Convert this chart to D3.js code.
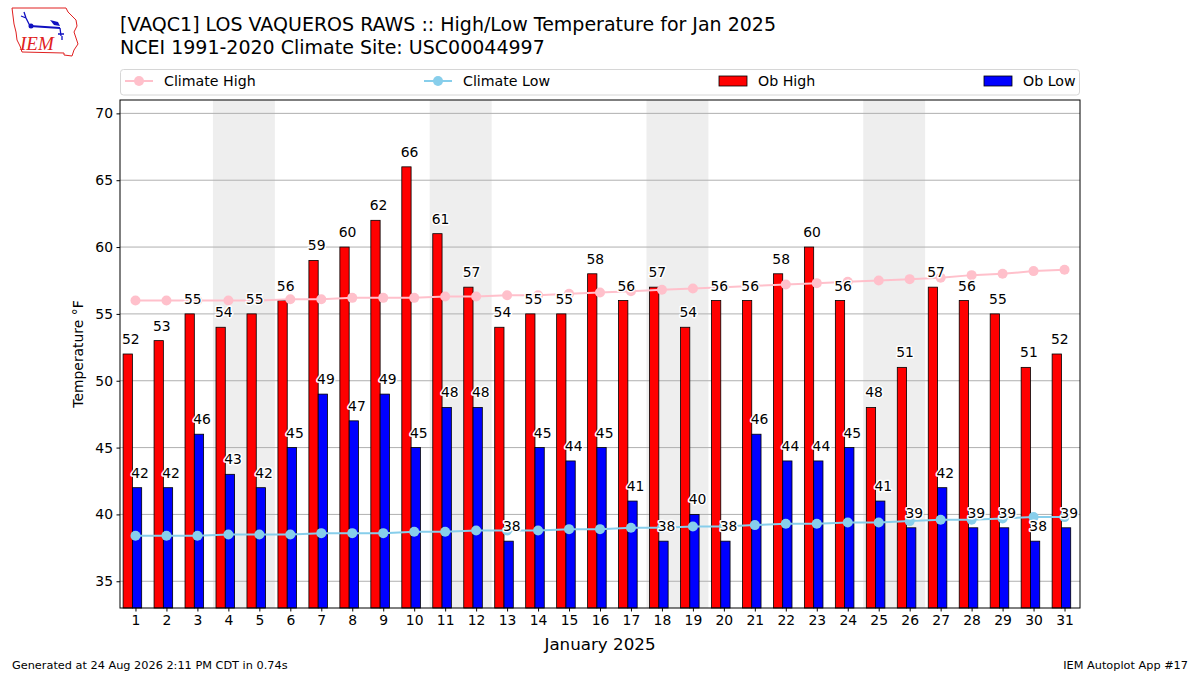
<!DOCTYPE html>
<html>
<head>
<meta charset="utf-8">
<script src="https://cdn.jsdelivr.net/npm/d3@7"></script>
<style>
  body { margin: 0; background: #fff; }
  svg { font-family: "DejaVu Sans", sans-serif; }
  .lbl { paint-order: stroke; stroke: #fff; stroke-width: 3px; stroke-linejoin: round; }
</style>
</head>
<body>
<div id="chart"></div>
<script>
// January 2025 daily data
const days = d3.range(1, 32);
const obHigh = [52, 53, 55, 54, 55, 56, 59, 60, 62, 66, 61, 57, 54, 55, 55, 58,
                56, 57, 54, 56, 56, 58, 60, 56, 48, 51, 57, 56, 55, 51, 52];
const obLow = [42, 42, 46, 43, 42, 45, 49, 47, 49, 45, 48, 48, 38, 45, 44, 45,
               41, 38, 40, 38, 46, 44, 44, 45, 41, 39, 42, 39, 39, 38, 39];
const climateHigh = [56.0, 56.0, 56.0, 56.0, 56.0, 56.1, 56.1, 56.2, 56.2, 56.2, 56.3,
                     56.3, 56.4, 56.4, 56.5, 56.6, 56.7, 56.8, 56.9, 57.0, 57.1, 57.2,
                     57.3, 57.4, 57.5, 57.6, 57.7, 57.9, 58.0, 58.2, 58.3];
const climateLow = [38.4, 38.4, 38.4, 38.5, 38.5, 38.5, 38.6, 38.6, 38.6, 38.7, 38.7,
                    38.8, 38.8, 38.8, 38.9, 38.9, 39.0, 39.0, 39.1, 39.1, 39.2, 39.3,
                    39.3, 39.4, 39.4, 39.5, 39.6, 39.6, 39.7, 39.8, 39.8];
const yTicks = [35, 40, 45, 50, 55, 60, 65, 70];

const width = 1200, height = 675;
const plot = { left: 120, right: 1080, top: 100, bottom: 608 };

const svg = d3.select("#chart")
    .append("svg")
    .attr("width", width)
    .attr("height", height);

const xScale = d3.scaleLinear().domain([0.5, 31.5]).range([plot.left, plot.right]);
const yScale = d3.scaleLinear().domain([33, 71]).range([plot.bottom, plot.top]);

// Weekend shading (Saturday + Sunday)
const saturdays = days.filter(d => new Date(2025, 0, d).getDay() === 6);
svg.append("g")
    .selectAll("rect")
    .data(saturdays)
    .enter()
    .append("rect")
    .attr("x", d => xScale(d - 0.5))
    .attr("width", d => xScale(d + 1.5) - xScale(d - 0.5))
    .attr("y", plot.top)
    .attr("height", plot.bottom - plot.top)
    .attr("fill", "#eeeeee");

// Grid lines
svg.append("g")
    .selectAll("line")
    .data(yTicks)
    .enter()
    .append("line")
    .attr("x1", plot.left)
    .attr("x2", plot.right)
    .attr("y1", d => yScale(d))
    .attr("y2", d => yScale(d))
    .attr("stroke", "#b0b0b0")
    .attr("stroke-width", 1);

// Bars
const barW = xScale(0.3) - xScale(0);
const bars = svg.append("g");
bars.selectAll(".hi")
    .data(days)
    .enter()
    .append("rect")
    .attr("x", (d) => xScale(d - 0.4))
    .attr("y", (d, i) => yScale(obHigh[i]))
    .attr("width", barW)
    .attr("height", (d, i) => plot.bottom - yScale(obHigh[i]))
    .attr("fill", "red")
    .attr("stroke", "black")
    .attr("stroke-width", 0.8);

bars.selectAll(".lo")
    .data(days)
    .enter()
    .append("rect")
    .attr("x", (d) => xScale(d - 0.1))
    .attr("y", (d, i) => yScale(obLow[i]))
    .attr("width", barW)
    .attr("height", (d, i) => plot.bottom - yScale(obLow[i]))
    .attr("fill", "blue")
    .attr("stroke", "black")
    .attr("stroke-width", 0.8);

// Climate lines
function drawClimate(values, color) {
    const line = d3.line()
        .x((d, i) => xScale(days[i]))
        .y(d => yScale(d));
    svg.append("path")
        .datum(values)
        .attr("d", line)
        .attr("fill", "none")
        .attr("stroke", color)
        .attr("stroke-width", 2);
    svg.append("g")
        .selectAll("circle")
        .data(values)
        .enter()
        .append("circle")
        .attr("cx", (d, i) => xScale(days[i]))
        .attr("cy", d => yScale(d))
        .attr("r", 5)
        .attr("fill", color);
}
drawClimate(climateHigh, "#ffc0cb");
drawClimate(climateLow, "#87ceeb");

// Value labels
const labels = svg.append("g")
    .style("font-size", "13.9px")
    .attr("text-anchor", "middle")
    .attr("fill", "#000");
labels.selectAll(".hl")
    .data(days)
    .enter()
    .append("text")
    .attr("class", "lbl")
    .attr("x", d => xScale(d - 0.15))
    .attr("y", (d, i) => yScale(obHigh[i]) - 10)
    .text((d, i) => obHigh[i]);
labels.selectAll(".ll")
    .data(days)
    .enter()
    .append("text")
    .attr("class", "lbl")
    .attr("x", d => xScale(d + 0.15))
    .attr("y", (d, i) => yScale(obLow[i]) - 10)
    .text((d, i) => obLow[i]);

// Axes
const xAxis = svg.append("g")
    .attr("transform", `translate(0, ${plot.bottom})`)
    .call(d3.axisBottom(xScale).tickValues(days).tickFormat(d3.format("d")).tickSizeOuter(0).tickSize(3.5));
const yAxis = svg.append("g")
    .attr("transform", `translate(${plot.left}, 0)`)
    .call(d3.axisLeft(yScale).tickValues(yTicks).tickSizeOuter(0).tickSize(3.5));
[xAxis, yAxis].forEach(a => {
    a.select(".domain").remove();
    a.selectAll("text").style("font-size", "13.9px").attr("fill", "#000")
        .style("font-family", "DejaVu Sans");
    a.selectAll("line").attr("stroke", "#000");
});
xAxis.selectAll("text").attr("dy", "0.71em").attr("y", 7);
yAxis.selectAll("text").attr("x", -7);

// Frame
svg.append("rect")
    .attr("x", plot.left)
    .attr("y", plot.top)
    .attr("width", plot.right - plot.left)
    .attr("height", plot.bottom - plot.top)
    .attr("fill", "none")
    .attr("stroke", "#000")
    .attr("stroke-width", 1);

// Axis labels
svg.append("text")
    .attr("x", (plot.left + plot.right) / 2)
    .attr("y", 650)
    .attr("text-anchor", "middle")
    .style("font-size", "16.7px")
    .text("January 2025");

svg.append("text")
    .attr("transform", "rotate(-90)")
    .attr("x", -(plot.top + plot.bottom) / 2)
    .attr("y", 83)
    .attr("text-anchor", "middle")
    .style("font-size", "13.9px")
    .text("Temperature °F");

// Title
svg.append("text")
    .attr("x", 120)
    .attr("y", 31)
    .style("font-size", "19px")
    .text("[VAQC1] LOS VAQUEROS RAWS :: High/Low Temperature for Jan 2025");
svg.append("text")
    .attr("x", 120)
    .attr("y", 54)
    .style("font-size", "19px")
    .text("NCEI 1991-2020 Climate Site: USC00044997");

// Legend
const legend = svg.append("g");
legend.append("rect")
    .attr("x", 120.5)
    .attr("y", 69.5)
    .attr("width", 959)
    .attr("height", 25.5)
    .attr("rx", 3)
    .attr("fill", "#fff")
    .attr("stroke", "#d6d6d6");
const legendItems = [
    { label: "Climate High", type: "line", color: "#ffc0cb", x: 125 },
    { label: "Climate Low", type: "line", color: "#87ceeb", x: 424 },
    { label: "Ob High", type: "bar", color: "red", x: 719 },
    { label: "Ob Low", type: "bar", color: "blue", x: 984 }
];
legendItems.forEach(item => {
    if (item.type === "line") {
        legend.append("line")
            .attr("x1", item.x).attr("x2", item.x + 28)
            .attr("y1", 81).attr("y2", 81)
            .attr("stroke", item.color).attr("stroke-width", 2);
        legend.append("circle")
            .attr("cx", item.x + 14).attr("cy", 81).attr("r", 5)
            .attr("fill", item.color);
    } else {
        legend.append("rect")
            .attr("x", item.x).attr("y", 76)
            .attr("width", 28).attr("height", 10)
            .attr("fill", item.color)
            .attr("stroke", "#000").attr("stroke-width", 0.8);
    }
    legend.append("text")
        .attr("x", item.x + 39)
        .attr("y", 86)
        .style("font-size", "14.2px")
        .text(item.label);
});

// Footer
svg.append("text")
    .attr("x", 12)
    .attr("y", 669)
    .style("font-size", "11.3px")
    .text("Generated at 24 Aug 2026 2:11 PM CDT in 0.74s");
svg.append("text")
    .attr("x", 1188)
    .attr("y", 669)
    .attr("text-anchor", "end")
    .style("font-size", "11.3px")
    .text("IEM Autoplot App #17");

// IEM logo (rough sketch)
const logo = svg.append("g").attr("transform", "translate(10, 6)");
logo.append("path")
    .attr("d", "M2,2 L56,2 L58,6 L62,10 L66,14 L67,20 L64,26 L66,32 L68,38 L64,44 L62,50 L54,49 L54,47 L12,46 L10,40 L7,34 L6,26 L4,18 L3,10 Z")
    .attr("fill", "none")
    .attr("stroke", "#e02020")
    .attr("stroke-width", 1);
logo.append("line").attr("x1", 20).attr("y1", 20).attr("x2", 50).attr("y2", 22)
    .attr("stroke", "#1010c0").attr("stroke-width", 2);
logo.append("circle").attr("cx", 21).attr("cy", 20).attr("r", 2.5).attr("fill", "#1010c0");
logo.append("path").attr("d", "M40,14 L48,16 L50,20 L44,19 Z").attr("fill", "#1010c0");
logo.append("path").attr("d", "M14,6 L16,12 L20,20 M11,10 L16,12").attr("fill", "none")
    .attr("stroke", "#1010c0").attr("stroke-width", 1.3);
logo.append("path").attr("d", "M50,22 L51,30 M48,28 L54,28 M52,30 L52,34").attr("fill", "none")
    .attr("stroke", "#1010c0").attr("stroke-width", 1.3);
logo.append("text")
    .attr("x", 10)
    .attr("y", 44)
    .style("font-family", "Liberation Serif, serif")
    .style("font-style", "italic")
    .style("font-size", "19px")
    .attr("fill", "#e02020")
    .text("IEM");
</script>
</body>
</html>
